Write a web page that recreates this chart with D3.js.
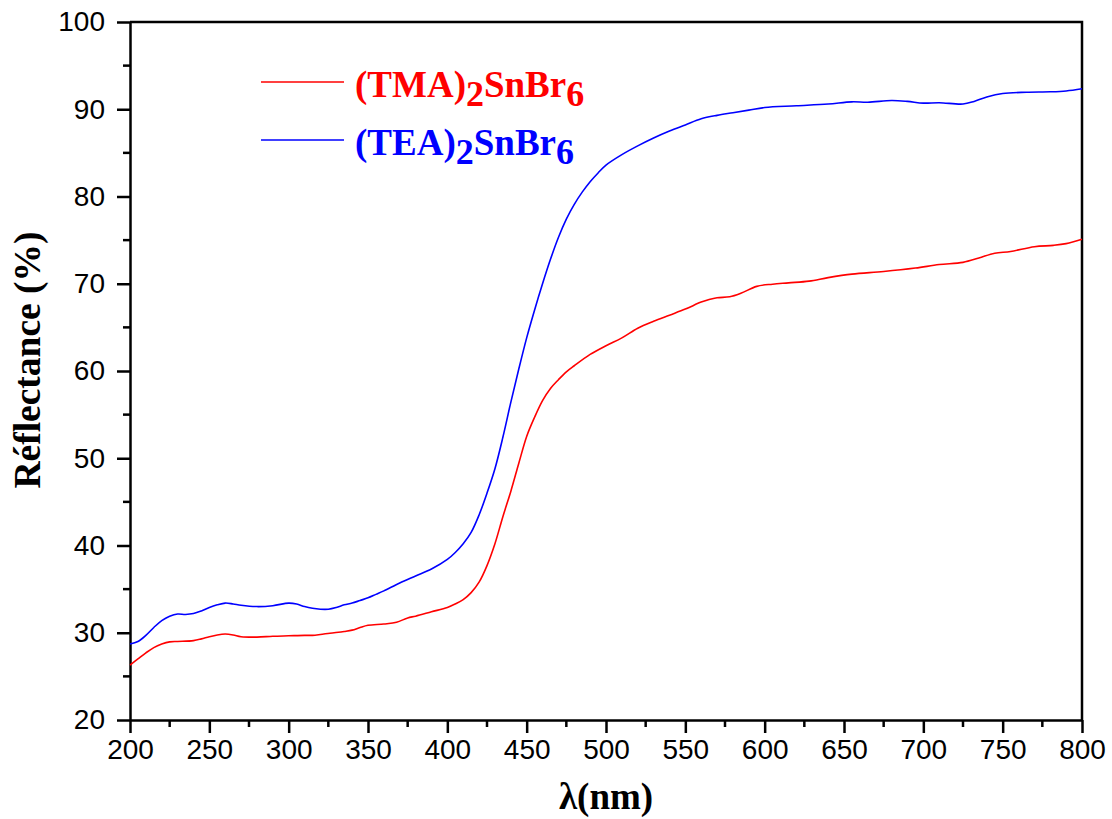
<!DOCTYPE html>
<html>
<head>
<meta charset="utf-8">
<script src="https://cdn.jsdelivr.net/npm/d3@7"></script>
<style>
  html, body { margin: 0; padding: 0; background: #fff; }
  svg { display: block; }
</style>
</head>
<body>
<svg id="chart" width="1112" height="819"></svg>
<script>
// ---- Data ----
const wavelengthTEA = [200,205,210,215,220,225,230,235,240,245,250,255,260,265,270,280,290,300,305,310,315,320,325,330,335,340,345,350,355,360,370,380,390,400,405,410,415,420,425,430,435,440,445,450,455,460,465,470,475,480,485,490,495,500,510,520,530,540,550,560,570,580,590,600,620,640,655,665,680,690,700,710,725,732,740,750,765,780,790,800];
const reflectTEA = [28.7,29.0,29.7,30.6,31.4,31.9,32.15,32.1,32.2,32.5,32.9,33.2,33.4,33.3,33.15,33.0,33.1,33.4,33.3,33.0,32.8,32.7,32.7,32.9,33.2,33.4,33.7,34.0,34.4,34.8,35.7,36.5,37.3,38.4,39.2,40.2,41.5,43.5,46.0,48.8,52.4,56.4,60.2,63.8,67.0,70.0,72.8,75.3,77.4,79.1,80.5,81.7,82.7,83.6,84.8,85.8,86.7,87.5,88.2,88.9,89.3,89.6,89.9,90.2,90.4,90.6,90.85,90.8,91.0,90.9,90.7,90.75,90.6,90.9,91.4,91.8,91.95,92.0,92.1,92.35];

const wavelengthTMA = [200,205,210,215,220,225,230,240,245,250,255,260,265,270,280,290,300,310,315,320,326,335,340,345,350,360,368,375,380,390,400,405,410,415,420,425,430,435,440,445,450,455,460,465,470,475,480,490,500,510,520,530,540,550,560,565,570,578,585,595,605,615,628,640,655,675,695,710,725,735,745,755,770,782,790,800];
const reflectTMA = [26.3,27.0,27.7,28.3,28.7,28.95,29.0,29.1,29.3,29.55,29.75,29.85,29.75,29.55,29.5,29.6,29.65,29.7,29.7,29.8,29.95,30.15,30.3,30.6,30.85,31.0,31.2,31.7,31.9,32.4,32.9,33.3,33.8,34.6,35.8,37.7,40.2,43.3,46.2,49.4,52.5,54.7,56.6,58.0,59.0,59.9,60.6,61.9,62.9,63.8,64.9,65.7,66.4,67.1,67.9,68.2,68.4,68.5,68.9,69.7,69.95,70.1,70.3,70.7,71.1,71.4,71.8,72.2,72.45,72.95,73.5,73.7,74.25,74.4,74.6,75.1];

const xTicks = [200,250,300,350,400,450,500,550,600,650,700,750,800];
const yTicks = [20,30,40,50,60,70,80,90,100];
const seriesNames = ["(TMA)", "(TEA)"];

// ---- Layout ----
const svg = d3.select("#chart");
const L = 130, R = 1082, T = 22, B = 720;
const x = d3.scaleLinear().domain([200, 800]).range([L, R]);
const y = d3.scaleLinear().domain([20, 100]).range([B, T]);

const tickFont = "'Liberation Sans', Arial, sans-serif";
const serif = "'Liberation Serif', 'Times New Roman', serif";

// frame (top & right)
svg.append("path")
  .attr("d", `M${L},${T}H${R}V${B}`)
  .attr("fill", "none").attr("stroke", "#000").attr("stroke-width", 2.5);

// minor ticks
const xMinor = d3.range(225, 800, 50);
const yMinor = d3.range(25, 100, 10);

const xAxis = d3.axisBottom(x).tickValues(xTicks).tickSize(13).tickSizeOuter(0).tickPadding(6);
const gx = svg.append("g").attr("transform", `translate(0,${B})`).call(xAxis);
gx.append("g").selectAll("line").data(xMinor).join("line")
  .attr("x1", d => x(d)).attr("x2", d => x(d)).attr("y1", 0).attr("y2", 7)
  .attr("stroke", "#000").attr("stroke-width", 2.5);

const yAxis = d3.axisLeft(y).tickValues(yTicks).tickSize(13).tickSizeOuter(0).tickPadding(12);
const gy = svg.append("g").attr("transform", `translate(${L},0)`).call(yAxis);
gy.append("g").selectAll("line").data(yMinor).join("line")
  .attr("x1", 0).attr("x2", -7).attr("y1", d => y(d)).attr("y2", d => y(d))
  .attr("stroke", "#000").attr("stroke-width", 2.5);

[gx, gy].forEach(g => {
  g.select(".domain").attr("stroke-width", 2.5);
  g.selectAll(".tick line").attr("stroke-width", 2.5);
  g.selectAll(".tick text").attr("font-family", tickFont).attr("font-size", 28).attr("fill", "#000");
});

// lines
const line = d3.line().x(d => x(d[0])).y(d => y(d[1])).curve(d3.curveCatmullRom.alpha(0.5));
const dataTMA = wavelengthTMA.map((w, i) => [w, reflectTMA[i]]);
const dataTEA = wavelengthTEA.map((w, i) => [w, reflectTEA[i]]);

svg.append("path").datum(dataTMA).attr("d", line)
  .attr("fill", "none").attr("stroke", "#ff0000").attr("stroke-width", 1.6);
svg.append("path").datum(dataTEA).attr("d", line)
  .attr("fill", "none").attr("stroke", "#0000ff").attr("stroke-width", 1.6);

// axis titles
svg.append("text")
  .attr("x", x(500)).attr("y", 809)
  .attr("text-anchor", "middle")
  .attr("font-family", serif).attr("font-weight", "bold").attr("font-size", 37)
  .text("λ(nm)");

svg.append("text")
  .attr("transform", `translate(40,360) rotate(-90)`)
  .attr("text-anchor", "middle")
  .attr("font-family", serif).attr("font-weight", "bold").attr("font-size", 37.5)
  .text("Réflectance (%)");

// legend
const legend = [
  { name: seriesNames[0], color: "#ff0000", ly: 82 },
  { name: seriesNames[1], color: "#0000ff", ly: 140 }
];
legend.forEach(d => {
  svg.append("line").attr("x1", 261).attr("x2", 344).attr("y1", d.ly).attr("y2", d.ly)
    .attr("stroke", d.color).attr("stroke-width", 1.6);
  const t = svg.append("text").attr("x", 355).attr("y", d.ly + 15)
    .attr("font-family", serif).attr("font-weight", "bold").attr("font-size", 37)
    .attr("fill", d.color);
  t.append("tspan").text(d.name);
  t.append("tspan").attr("dy", 9).attr("font-size", 36).text("2");
  t.append("tspan").attr("dy", -9).text("SnBr");
  t.append("tspan").attr("dy", 9).attr("font-size", 36).text("6");
});
</script>
</body>
</html>
